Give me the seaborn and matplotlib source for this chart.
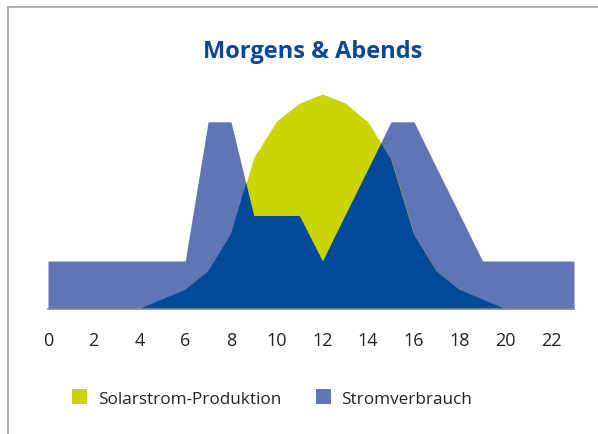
import numpy as np
import pandas as pd
import matplotlib
matplotlib.use("Agg")
import matplotlib.pyplot as plt
from matplotlib.patches import Patch
from matplotlib.lines import Line2D
import seaborn as sns

# ---- data (hours of day, relative power units) ----
hours = list(range(24))
solar = [0, 0, 0, 0, 0, 0.2, 0.4, 0.78, 1.56, 3.16, 3.92, 4.29, 4.48, 4.29,
         3.89, 3.13, 1.56, 0.78, 0.4, 0.2, 0, 0, 0, 0]
consumption = [1, 1, 1, 1, 1, 1, 1, 3.9, 3.9, 1.94, 1.94, 1.94, 1.0, 1.97,
               2.93, 3.9, 3.9, 2.93, 1.97, 1, 1, 1, 1, 1]
tick_values = [0, 2, 4, 6, 8, 10, 12, 14, 16, 18, 20, 22]
title = "Morgens & Abends"
series_names = ["Solarstrom-Produktion", "Stromverbrauch"]

YELLOW = "#c9d400"
LIGHT = "#5f75b6"
DARK = "#004a98"
TITLE_C = "#0a4797"

sns.set_theme(style="white")
plt.rcParams["font.family"] = ["Open Sans", "DejaVu Sans"]

W, H = 598, 435
fig = plt.figure(figsize=(W / 100, H / 100), dpi=100)
fig.patch.set_facecolor("white")

left, right = 48, 574
base, top = 310, 310 - 4.6 * 48
ax = fig.add_axes([left / W, 1 - base / H, (right - left) / W, (base - top) / H])

df = pd.DataFrame({"hour": hours, "solar": solar, "consumption": consumption})
sns.lineplot(data=df, x="hour", y="consumption", ax=ax, linewidth=0, legend=False)
sns.lineplot(data=df, x="hour", y="solar", ax=ax, linewidth=0, legend=False)

ax.fill_between(df["hour"], df["consumption"], color=LIGHT, lw=0, zorder=1)
sol = ax.fill_between(df["hour"], df["solar"], color=YELLOW, lw=0, zorder=2)
dark = ax.fill_between(df["hour"], df["consumption"], color=DARK, lw=0, zorder=3)
dark.set_clip_path(sol.get_paths()[0], ax.transData)

ax.set_xlim(0, 23)
ax.set_ylim(0, 4.6)
ax.set_xticks(tick_values)
ax.set_xticklabels([str(t) for t in tick_values], fontsize=13, color="#222222")
ax.tick_params(axis="x", length=0, pad=16)
ax.set_yticks([])
ax.set_xlabel("")
ax.set_ylabel("")
for s in ["top", "right", "left"]:
    ax.spines[s].set_visible(False)
ax.spines["bottom"].set_color("#8a8a8a")
ax.spines["bottom"].set_linewidth(1.2)
ax.spines["bottom"].set_zorder(5)
ax.set_facecolor("none")

fig.text(312.5 / W, 1 - 52 / H, title, ha="center", va="center",
         fontsize=17, fontweight="bold", color=TITLE_C)

handles = [Patch(facecolor=YELLOW, edgecolor="none"), Patch(facecolor=LIGHT, edgecolor="none")]
fig.legend(handles, series_names, loc="center left",
           bbox_to_anchor=(72 / W, 1 - 399 / H), ncol=2, frameon=False,
           fontsize=12.3, handlelength=0.9, handleheight=0.95, handletextpad=0.62,
           columnspacing=2.0, borderpad=0, borderaxespad=0,
           labelcolor="#222222")

# outer frame lines (top and left)
fig.add_artist(Line2D([8 / W, 1], [1 - 8 / H, 1 - 8 / H], transform=fig.transFigure,
                      color="#a8a8a8", lw=1.3))
fig.add_artist(Line2D([8 / W, 8 / W], [0, 1 - 8 / H], transform=fig.transFigure,
                      color="#a8a8a8", lw=1.3))

fig.savefig("out.png", dpi=100)
